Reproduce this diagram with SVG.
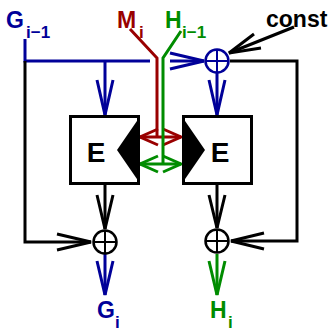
<svg xmlns="http://www.w3.org/2000/svg" width="329" height="329" viewBox="0 0 329 329">
<style>
.ln{fill:none;stroke-width:3;stroke-linejoin:miter;stroke-linecap:butt}
.k{stroke:#000}
.b{stroke:#000099}
.r{stroke:#990000}
.g{stroke:#008c00}
.lbl{font-family:"Liberation Sans",Arial,sans-serif;font-weight:bold}
.big{font-size:23px}
.sub{font-size:17px}
.box{fill:#fff;stroke:#000;stroke-width:3}
.xor{fill:#fff;stroke:#000;stroke-width:2.5}
</style>
<rect width="329" height="329" fill="#fff"/>
<g id="connectors">
  <polyline class="ln b" points="25,39 25,61 150,61"/>
  <polyline class="ln b" points="170,61 204,61"/>
  <polyline class="ln b" points="170,53 204,61 170,69"/>
  <line class="ln b" x1="105" y1="61" x2="105" y2="115"/>
  <polyline class="ln b" points="97,80 105,115 113,80"/>
  <polyline class="ln k" points="25,61 25,242 91,242"/>
  <polyline class="ln k" points="57,234 91,242 57,250"/>
  <line class="ln k" x1="294" y1="27" x2="229" y2="53"/>
  <polyline class="ln k" points="254,34 229,53 261,48"/>
  <polyline class="ln k" points="230,61 297,61 297,241 231,241"/>
  <polyline class="ln k" points="264,233 231,241 264,249"/>
  <line class="ln b" x1="217" y1="73" x2="217" y2="115"/>
  <polyline class="ln b" points="209,80 217,115 225,80"/>
  <line class="ln k" x1="105" y1="184" x2="105" y2="229"/>
  <polyline class="ln k" points="97,195 105,229 113,195"/>
  <line class="ln k" x1="217" y1="184" x2="217" y2="228"/>
  <polyline class="ln k" points="209,195 217,228 225,195"/>
  <line class="ln b" x1="105" y1="254" x2="105" y2="295"/>
  <polyline class="ln b" points="97,261 105,295 113,261"/>
  <line class="ln g" x1="217" y1="254" x2="217" y2="295"/>
  <polyline class="ln g" points="209,261 217,295 225,261"/>
  <polyline class="ln r" points="130,29 157,58 157,137"/>
  <line class="ln r" x1="140" y1="137" x2="181" y2="137"/>
  <polyline class="ln r" points="158,129 140,137 158,145"/>
  <polyline class="ln r" points="163,129 181,137 163,145"/>
  <polyline class="ln g" points="181,31 163,58 163,164"/>
  <line class="ln g" x1="140" y1="164" x2="181" y2="164"/>
  <polyline class="ln g" points="158,156 140,164 158,172"/>
  <polyline class="ln g" points="163,156 181,164 163,172"/>
</g>
<g id="xor-top">
  <circle cx="217" cy="61" r="11.5" fill="#fff" stroke="#000099" stroke-width="2.5"/>
  <path d="M205.5,61H228.5M217,49.5V72.5" stroke="#000099" stroke-width="2"/>
</g>
<g id="xor-left">
  <circle class="xor" cx="105" cy="242" r="11.5"/>
  <path d="M93.5,242H116.5M105,230.5V253.5" stroke="#000" stroke-width="2"/>
</g>
<g id="xor-right">
  <circle class="xor" cx="217" cy="241" r="11.5"/>
  <path d="M205.5,241H228.5M217,229.5V252.5" stroke="#000" stroke-width="2"/>
</g>
<g id="E-left">
  <rect class="box" x="70.5" y="116.5" width="68" height="67"/>
  <polygon points="139,118 117,150 139,182" fill="#000"/>
  <text class="lbl" x="96" y="162" font-size="28" text-anchor="middle">E</text>
</g>
<g id="E-right">
  <rect class="box" x="183.5" y="116.5" width="68" height="67"/>
  <polygon points="183,118 205,150 183,182" fill="#000"/>
  <text class="lbl" x="220" y="162" font-size="28" text-anchor="middle">E</text>
</g>
<g id="labels">
  <text class="lbl big" x="6" y="28" fill="#000099">G</text>
  <text class="lbl sub" x="26" y="38" fill="#000099">i−1</text>
  <text class="lbl big" x="117" y="28" fill="#990000">M</text>
  <text class="lbl sub" x="139" y="38" fill="#990000">i</text>
  <text class="lbl big" x="165" y="28" fill="#008c00">H</text>
  <text class="lbl sub" x="182" y="38" fill="#008c00">i−1</text>
  <text class="lbl" x="266" y="27" font-size="23" fill="#000">const</text>
  <text class="lbl big" x="97" y="318" fill="#000099">G</text>
  <text class="lbl sub" x="115" y="328" fill="#000099">i</text>
  <text class="lbl big" x="210" y="318" fill="#008c00">H</text>
  <text class="lbl sub" x="228" y="328" fill="#008c00">i</text>
</g>
</svg>
